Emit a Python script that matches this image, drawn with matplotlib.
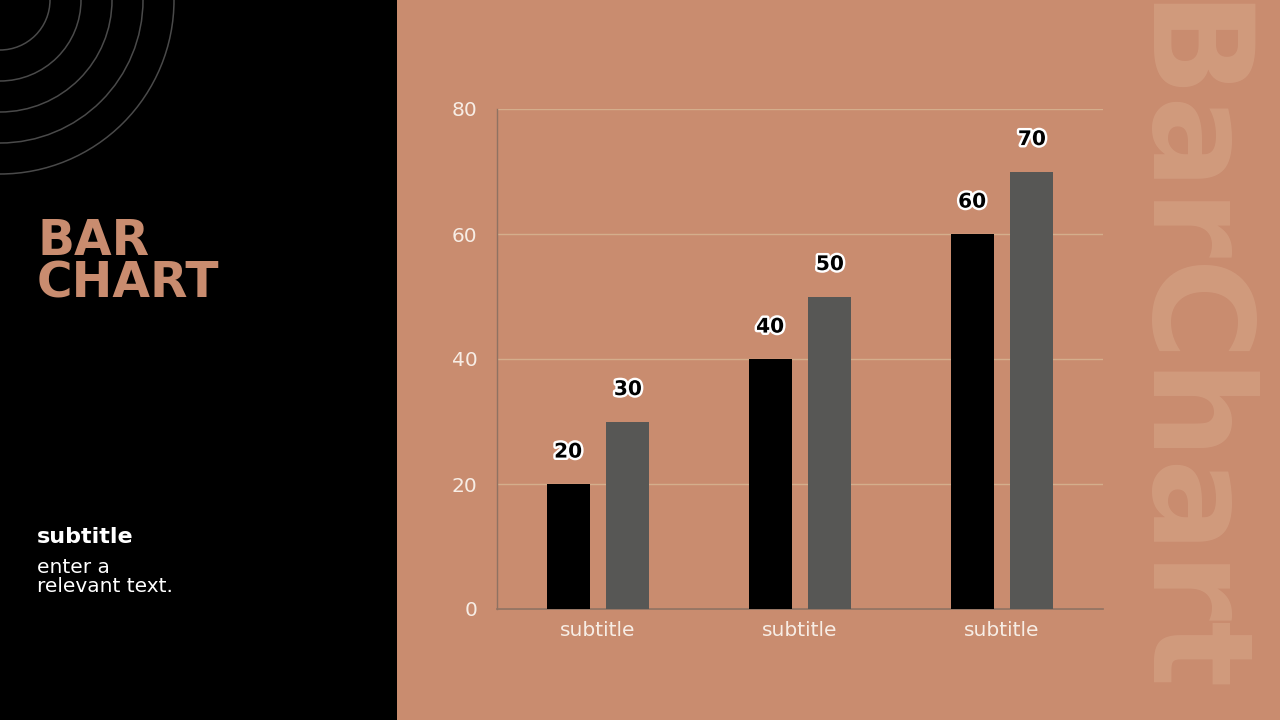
import numpy as np
import matplotlib
matplotlib.use("Agg")
import matplotlib.pyplot as plt
import matplotlib.patheffects as pe
from matplotlib.patches import Rectangle, Circle

categories = ["subtitle", "subtitle", "subtitle"]
series_a = [20, 40, 60]
series_b = [30, 50, 70]
y_ticks = [0, 20, 40, 60, 80]

PEACH = "#C98C6F"
DARK_GREY = "#575755"
CREAM = "#F7EDE5"
GRID = "#D4AE8C"

W, H = 1280, 720
fig = plt.figure(figsize=(12.8, 7.2), dpi=100)
fig.patch.set_facecolor("black")

# background layer: peach panel, arcs, watermark
bg = fig.add_axes([0, 0, 1, 1], zorder=0)
bg.set_xlim(0, W)
bg.set_ylim(H, 0)
bg.axis("off")
bg.add_patch(Rectangle((397, 0), W - 397, H, facecolor=PEACH, edgecolor="none", zorder=0))
for r in [50, 81, 112, 143, 174]:
    bg.add_patch(Circle((0, 0), r, fill=False, edgecolor="#4a4a4a", linewidth=1.1, zorder=1))

bg.text(1179, 2, "BarChart", rotation=270, ha="center", va="top",
        fontsize=100, fontweight="heavy", family="DejaVu Sans",
        color="#D9A98B", alpha=0.5, zorder=1)

# left panel text
fig.text(37 / W, 1 - 298 / H, "BAR\nCHART", color=PEACH, fontsize=35, fontweight="heavy",
         family="DejaVu Sans", ha="left", va="baseline", linespacing=0.86)
fig.text(37 / W, 1 - 543 / H, "subtitle", color="white", fontsize=16, fontweight="bold",
         family="DejaVu Sans", ha="left", va="baseline")
fig.text(37 / W, 1 - 592 / H, "enter a\nrelevant text.", color="white", fontsize=14.5,
         family="DejaVu Sans", ha="left", va="baseline", linespacing=1.0)

# chart
ax = fig.add_axes([497 / W, 111 / H, 606 / W, 500 / H], zorder=2)
ax.patch.set_alpha(0)
x = np.arange(len(categories))
bw = 0.213
off = 0.148
bars_a = ax.bar(x - off, series_a, width=bw, color="black", zorder=3)
bars_b = ax.bar(x + off, series_b, width=bw, color=DARK_GREY, zorder=3)

ax.set_xlim(-0.5, len(categories) - 0.5)
ax.set_ylim(0, 80)
ax.set_yticks(y_ticks)
ax.set_xticks(x)
ax.set_xticklabels(categories)
ax.tick_params(axis="both", length=0, colors=CREAM, labelsize=14.5)
ax.tick_params(axis="y", pad=14)
ax.tick_params(axis="x", pad=9)
ax.grid(axis="y", color=GRID, linewidth=1, zorder=1)
for s in ["top", "right"]:
    ax.spines[s].set_visible(False)
ax.spines["left"].set_color("#8F7262")
ax.spines["bottom"].set_color("#8F7262")
ax.spines["left"].set_linewidth(1)
ax.spines["bottom"].set_linewidth(1.2)

stroke = [pe.withStroke(linewidth=3.5, foreground="white")]
for bars, vals in [(bars_a, series_a), (bars_b, series_b)]:
    for b, v in zip(bars, vals):
        ax.annotate(str(v), (b.get_x() + b.get_width() / 2, v), xytext=(0, 23),
                    textcoords="offset points", ha="center", va="center",
                    fontsize=14.5, fontweight="bold", color="black",
                    path_effects=stroke, zorder=4)

fig.savefig("out.png", dpi=100, facecolor=fig.get_facecolor())
